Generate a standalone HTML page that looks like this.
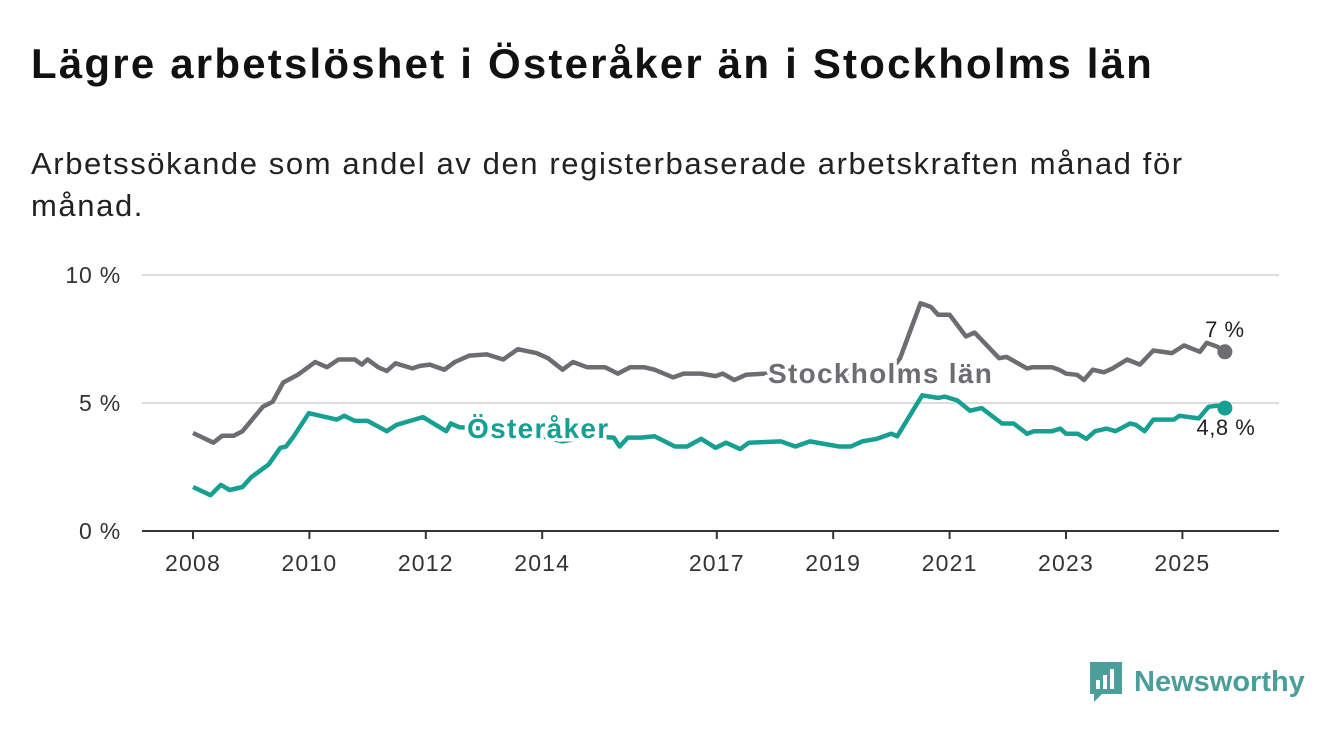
<!DOCTYPE html>
<html><head><meta charset="utf-8"><style>
body{margin:0;background:#fff;width:1340px;height:734px;overflow:hidden;font-family:"Liberation Sans",sans-serif;}
h1{position:absolute;left:31px;top:40px;margin:0;font-size:42px;font-weight:bold;color:#111;letter-spacing:2.2px}
.sub{position:absolute;left:31px;top:143px;font-size:31px;color:#222;line-height:42px;width:1200px;letter-spacing:1.6px}
</style></head><body>
<h1>Lägre arbetslöshet i Österåker än i Stockholms län</h1>
<div class="sub">Arbetssökande som andel av den registerbaserade arbetskraften månad för månad.</div>
<svg id="chart" width="1340" height="734" style="position:absolute;left:0;top:0"></svg>
<div style="position:absolute;left:1088px;top:660px;display:flex;align-items:center">
<svg width="36" height="44"><path d="M2 2h32v32H14l-8 8v-8H2z" fill="#4a9f9a"/><rect x="8" y="20" width="4" height="9" fill="#fff"/><rect x="15" y="15" width="4" height="14" fill="#fff"/><rect x="22" y="9" width="4" height="20" fill="#fff"/></svg>
<span style="font-size:29px;font-weight:bold;color:#4a9f9a;margin-left:10px">Newsworthy</span></div>
<script>
const yTicks=[0,5,10];
const yTickLabels=["0 %","5 %","10 %"];
const xTicks=[2008,2010,2012,2014,2017,2019,2021,2023,2025];
const stockT=[2008.0,2008.35,2008.5,2008.7,2008.85,2009.2,2009.37,2009.55,2009.8,2010.1,2010.3,2010.5,2010.78,2010.9,2011.0,2011.18,2011.33,2011.48,2011.77,2011.9,2012.07,2012.32,2012.5,2012.75,2013.05,2013.33,2013.58,2013.9,2014.1,2014.35,2014.53,2014.77,2015.08,2015.3,2015.51,2015.75,2015.93,2016.25,2016.43,2016.73,2016.98,2017.1,2017.3,2017.5,2017.85,2018.5,2019.0,2019.5,2019.9,2020.15,2020.5,2020.68,2020.8,2021.0,2021.28,2021.43,2021.85,2021.98,2022.33,2022.43,2022.76,2022.88,2023.0,2023.19,2023.31,2023.46,2023.65,2023.8,2024.05,2024.27,2024.5,2024.82,2025.03,2025.3,2025.42,2025.6,2025.73];
const stockV=[3.83,3.45,3.72,3.72,3.9,4.85,5.05,5.8,6.1,6.6,6.4,6.7,6.7,6.5,6.7,6.4,6.25,6.55,6.35,6.45,6.5,6.3,6.6,6.85,6.9,6.7,7.1,6.95,6.75,6.3,6.6,6.4,6.4,6.15,6.4,6.4,6.3,6.0,6.15,6.15,6.05,6.15,5.9,6.1,6.15,6.05,6.2,6.1,6.0,6.75,8.9,8.75,8.45,8.45,7.6,7.75,6.75,6.8,6.35,6.4,6.4,6.3,6.15,6.1,5.9,6.3,6.2,6.35,6.7,6.5,7.05,6.95,7.25,7.0,7.35,7.2,7.0];
const ostT=[2008.0,2008.3,2008.48,2008.63,2008.85,2009.0,2009.3,2009.5,2009.6,2009.73,2009.99,2010.47,2010.6,2010.78,2011.0,2011.33,2011.5,2011.95,2012.35,2012.43,2012.58,2013.0,2013.5,2014.0,2014.35,2014.8,2015.23,2015.33,2015.47,2015.7,2015.93,2016.28,2016.49,2016.73,2016.98,2017.16,2017.4,2017.55,2018.1,2018.35,2018.6,2019.1,2019.3,2019.5,2019.75,2020.0,2020.1,2020.53,2020.8,2020.92,2021.13,2021.35,2021.55,2021.9,2022.1,2022.33,2022.45,2022.76,2022.9,2023.0,2023.2,2023.35,2023.5,2023.7,2023.85,2024.1,2024.2,2024.35,2024.5,2024.85,2024.95,2025.28,2025.45,2025.6,2025.73];
const ostV=[1.72,1.4,1.8,1.6,1.72,2.1,2.6,3.25,3.3,3.7,4.6,4.35,4.5,4.3,4.3,3.9,4.15,4.45,3.9,4.2,4.05,4.0,3.9,3.7,3.5,3.7,3.65,3.3,3.65,3.65,3.7,3.3,3.3,3.6,3.25,3.45,3.2,3.45,3.5,3.3,3.5,3.3,3.3,3.5,3.6,3.8,3.7,5.3,5.2,5.25,5.1,4.7,4.8,4.2,4.2,3.8,3.9,3.9,4.0,3.8,3.8,3.6,3.9,4.0,3.9,4.2,4.15,3.9,4.35,4.35,4.5,4.4,4.85,4.9,4.8];
const stockLast="7 %", ostLast="4,8 %";
const svg=document.getElementById('chart');const NS="http://www.w3.org/2000/svg";
const X=t=>193+(t-2008)*58.2, Y=v=>531-v*25.6;
function mk(tag,attrs){const e=document.createElementNS(NS,tag);for(const k in attrs)e.setAttribute(k,attrs[k]);svg.appendChild(e);return e;}
yTicks.forEach((v,i)=>{
 const l=mk('line',{x1:142,x2:1279,y1:Y(v),y2:Y(v),stroke:v===0?'#333':'#ddd','stroke-width':2});
 
 
 const t=mk('text',{x:121,y:Y(v)+8,'text-anchor':'end','font-size':23,'letter-spacing':0.8,fill:'#333','font-family':'Liberation Sans, sans-serif'});
 t.textContent=yTickLabels[i];
 
 
});
xTicks.forEach(yr=>{
 const tk=mk('line',{x1:X(yr),x2:X(yr),y1:531,y2:539,stroke:'#333','stroke-width':2});
 
 
 const t=mk('text',{x:X(yr),y:571,'text-anchor':'middle','font-size':23,'letter-spacing':1.2,fill:'#333','font-family':'Liberation Sans, sans-serif'});
 t.textContent=yr;
 
 
});
function line(T,V,c,name){
 const d=T.map((t,i)=>(i?'L':'M')+X(t).toFixed(1)+' '+Y(V[i]).toFixed(1)).join(' ');
 const p=mk('path',{d:d,fill:'none',stroke:c,'stroke-width':4.5,'stroke-linejoin':'round'});
 
 
}
line(stockT,stockV,'#6d6c71','stockholm-line');
line(ostT,ostV,'#17a092','osteraker-line');
const sn=stockT.length-1,on=ostT.length-1;
const d1=mk('circle',{cx:X(stockT[sn]),cy:Y(stockV[sn]),r:7.5,fill:'#6d6c71'});


const d2=mk('circle',{cx:X(ostT[on]),cy:Y(ostV[on]),r:7.5,fill:'#17a092'});


function lab(x,y,txt,c,fs,bold,ls,name,anchor){
 const t=mk('text',{x:x,y:y,'font-size':fs,'letter-spacing':ls,'font-weight':bold?'bold':'normal',fill:c,stroke:'#fff','stroke-width':bold?7:4,'paint-order':'stroke','text-anchor':anchor||'start','font-family':'Liberation Sans, sans-serif'});
 t.textContent=txt;
 
 
}
lab(768,383,'Stockholms län','#6d6c71',28,true,1.3,'stockholm-label');
lab(467,438,'Österåker','#17a092',28,true,1.3,'osteraker-label');
lab(X(stockT[sn]),337,stockLast,'#222',22,false,0.5,'stockholm-end-value','middle');
lab(X(ostT[on])+1,435,ostLast,'#222',22,false,0.5,'osteraker-end-value','middle');
</script>
</body></html>
